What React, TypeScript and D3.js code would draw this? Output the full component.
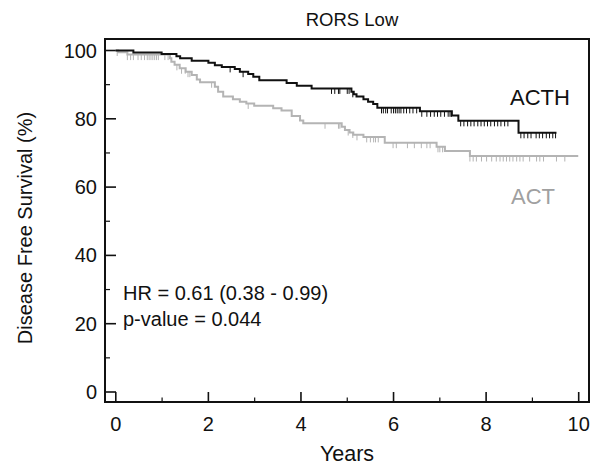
import React from "react";
import * as d3 from "d3";

// ACTH (black) Kaplan-Meier steps: [time (years), survival (%)]
const acthSteps: [number, number][] = [
  [0, 100], [0.38, 99.4], [0.99, 99.0], [1.31, 98.3], [1.39, 97.7], [1.64, 97.0],
  [2.0, 96.4], [2.14, 95.7], [2.29, 95.2], [2.57, 94.6], [2.68, 93.8], [2.86, 93.1],
  [2.97, 92.3], [3.1, 91.3], [3.69, 90.5], [3.91, 89.7], [4.23, 88.9], [5.09, 87.9],
  [5.14, 87.2], [5.2, 86.5], [5.35, 85.7], [5.45, 85.0], [5.56, 84.3], [5.65, 83.2],
  [6.57, 82.2], [7.26, 81.0], [7.40, 79.4], [8.70, 75.9],
];
const acthEnd = 9.52;
const acthCensor = [
  2.47, 2.75, 4.66, 4.73, 4.81, 4.84, 5.0, 5.04, 5.12, 5.74, 5.78, 5.83, 5.87, 5.95,
  6.0, 6.04, 6.08, 6.12, 6.16, 6.22, 6.28, 6.35, 6.42, 6.5, 6.61, 6.72, 6.8, 6.88,
  6.95, 7.02, 7.1, 7.18, 7.22, 7.25, 7.45, 7.52, 7.6, 7.67, 7.74, 7.82, 7.89, 7.96,
  8.03, 8.1, 8.18, 8.25, 8.32, 8.4, 8.47, 8.75, 8.82, 8.9, 8.97, 9.08, 9.15, 9.22,
  9.3, 9.37, 9.44, 9.5,
];

// ACT (gray)
const actSteps: [number, number][] = [
  [0, 100], [0.05, 99.5], [0.25, 98.8], [1.17, 97.7], [1.2, 96.7], [1.27, 95.8],
  [1.38, 94.8], [1.51, 93.8], [1.64, 92.8], [1.75, 91.5], [1.82, 90.7], [2.14, 89.4],
  [2.21, 87.9], [2.32, 86.5], [2.53, 85.7], [2.68, 85.0], [2.82, 84.5], [2.99, 83.8],
  [3.4, 83.1], [3.58, 82.4], [3.8, 80.8], [3.98, 79.5], [4.05, 78.7], [4.88, 77.7],
  [4.95, 76.7], [5.05, 76.0], [5.13, 75.3], [5.35, 74.7], [5.81, 73.0], [6.93, 71.8],
  [7.11, 70.6], [7.65, 69.1],
];
const actEnd = 9.99;
const actCensor = [
  0.03, 0.25, 0.32, 0.38, 0.48, 0.55, 0.62, 0.68, 0.72, 0.76, 0.8, 0.84, 0.88, 0.92,
  1.06, 1.13, 1.32, 1.42, 1.5, 1.56, 1.6, 2.07, 2.86, 4.52, 4.81, 4.84, 5.02, 5.12,
  5.21, 5.42, 5.5, 5.57, 5.61, 5.67, 5.99, 6.06, 6.3, 6.45, 6.6, 6.72, 6.79, 6.96,
  7.0, 7.06, 7.65, 7.72, 7.79, 7.9, 8.01, 8.12, 8.22, 8.3, 8.37, 8.44, 8.51, 8.58,
  8.66, 8.73, 8.8, 8.94, 9.09, 9.16, 9.24, 9.52, 9.7,
];

const xMajor = [0, 2, 4, 6, 8, 10];
const xMinor = [1, 3, 5, 7, 9];
const yMajor = [0, 20, 40, 60, 80, 100];
const yMinor = [10, 30, 50, 70, 90];

const titleText = "RORS Low";
const xTitle = "Years";
const yTitle = "Disease Free Survival (%)";
const statLines = ["HR = 0.61 (0.38 - 0.99)", "p-value = 0.044"];

const FONT = "'Liberation Sans', Arial, Helvetica, sans-serif";
const BLACK = "#111";
const GRAY_LINE = "#b4b4b4";
const GRAY_TEXT = "#a0a0a0";

const frame = { left: 105, right: 589, top: 39, bottom: 402 };

export default function App() {
  const x = d3.scaleLinear().domain([0, 10]).range([115.8, 578.7]);
  const y = d3.scaleLinear().domain([0, 100]).range([392, 50.5]);

  const line = d3
    .line<[number, number]>()
    .x((d) => x(d[0]))
    .y((d) => y(d[1]))
    .curve(d3.curveStepAfter);

  const withEnd = (steps: [number, number][], end: number): [number, number][] => [
    ...steps,
    [end, steps[steps.length - 1][1]],
  ];

  const survAt = (steps: [number, number][], t: number) => {
    let s = steps[0][1];
    for (const [st, sv] of steps) if (st <= t) s = sv;
    return s;
  };

  const series = [
    { steps: actSteps, end: actEnd, censor: actCensor, color: GRAY_LINE },
    { steps: acthSteps, end: acthEnd, censor: acthCensor, color: BLACK },
  ];

  return (
    <svg
      width={594}
      height={466}
      style={{ position: "absolute", left: 0, top: 0, background: "#fff" }}
      fontFamily={FONT}
    >
      <rect x={0} y={0} width={594} height={466} fill="#fff" />
      <text x={352} y={26} fontSize={18.5} textAnchor="middle" fill={BLACK}>
        {titleText}
      </text>

      {/* ticks */}
      {xMajor.map((v) => (
        <line key={"xM" + v} x1={x(v)} x2={x(v)} y1={frame.bottom} y2={frame.bottom - 10} stroke={BLACK} strokeWidth={1.6} />
      ))}
      {xMinor.map((v) => (
        <line key={"xm" + v} x1={x(v)} x2={x(v)} y1={frame.bottom} y2={frame.bottom - 4.5} stroke={BLACK} strokeWidth={1.2} />
      ))}
      {yMajor.map((v) => (
        <line key={"yM" + v} x1={frame.left} x2={frame.left + 11} y1={y(v)} y2={y(v)} stroke={BLACK} strokeWidth={1.6} />
      ))}
      {yMinor.map((v) => (
        <line key={"ym" + v} x1={frame.left} x2={frame.left + 5} y1={y(v)} y2={y(v)} stroke={BLACK} strokeWidth={1.2} />
      ))}

      {xMajor.map((v) => (
        <text key={"xl" + v} x={x(v)} y={431} fontSize={20} textAnchor="middle" fill={BLACK}>
          {v}
        </text>
      ))}
      {yMajor.map((v) => (
        <text key={"yl" + v} x={97} y={y(v) + 7} fontSize={20} textAnchor="end" fill={BLACK}>
          {v}
        </text>
      ))}

      {/* curves */}
      {series.map((s, i) => (
        <g key={"s" + i}>
          <path d={line(withEnd(s.steps, s.end)) || ""} fill="none" stroke={s.color} strokeWidth={2} />
          {s.censor.map((c, j) => (
            <line
              key={j}
              x1={x(c)}
              x2={x(c)}
              y1={y(survAt(s.steps, c))}
              y2={y(survAt(s.steps, c)) + 5.5}
              stroke={s.color}
              strokeWidth={1}
            />
          ))}
        </g>
      ))}

      <rect
        x={frame.left}
        y={frame.top}
        width={frame.right - frame.left}
        height={frame.bottom - frame.top}
        fill="none"
        stroke={BLACK}
        strokeWidth={2}
      />

      <text x={510} y={105} fontSize={22} fill={BLACK}>ACTH</text>
      <text x={511} y={204} fontSize={22} fill={GRAY_TEXT}>ACT</text>

      {statLines.map((t, i) => (
        <text key={t} x={123} y={300 + i * 25.5} fontSize={20} fill={BLACK}>
          {t}
        </text>
      ))}

      <text x={347} y={461} fontSize={21.5} textAnchor="middle" fill={BLACK}>
        {xTitle}
      </text>
      <text
        transform={`translate(32,228) rotate(-90)`}
        fontSize={20}
        textAnchor="middle"
        fill={BLACK}
      >
        {yTitle}
      </text>
    </svg>
  );
}
